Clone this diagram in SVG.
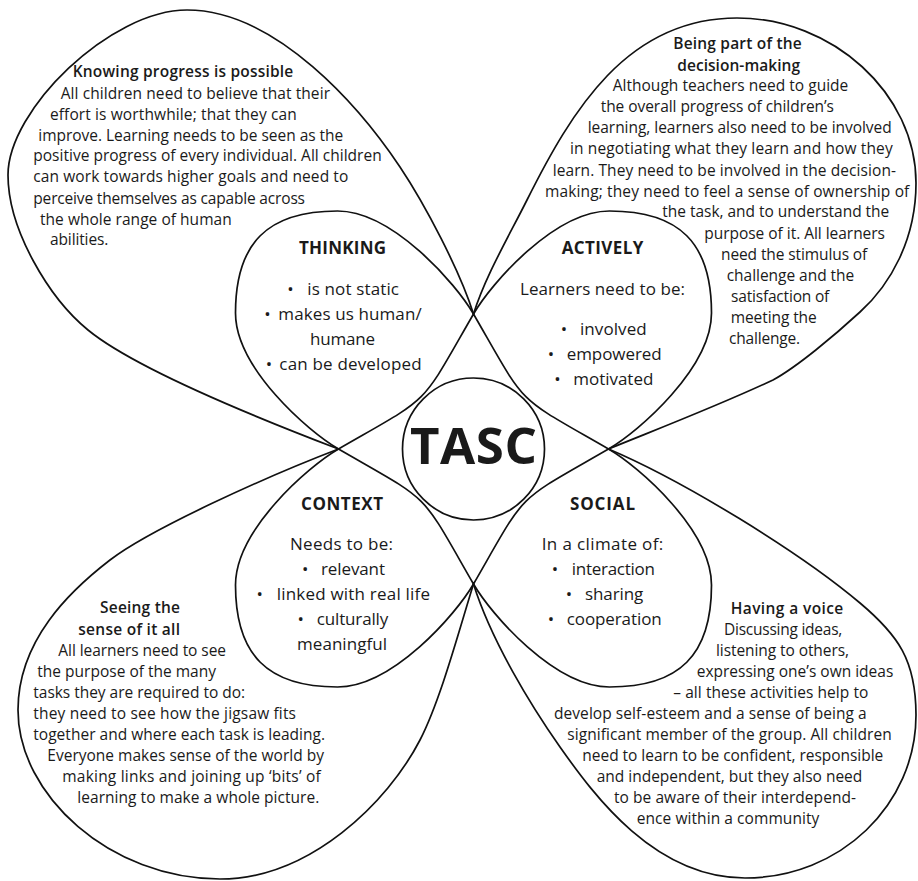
<svg xmlns="http://www.w3.org/2000/svg" width="918" height="881" viewBox="0 0 918 881">
<style>
.ln{fill:none;stroke:#111;stroke-width:1.7;stroke-linecap:round;stroke-linejoin:round}
text{font-family:"Open Sans","Noto Sans","DejaVu Sans",sans-serif;fill:#1a1a1a}
.o{font-size:15.5px}
.ob{font-size:15.5px;font-weight:600}
.i{font-size:17px}
.b{font-size:17px;text-anchor:middle}
.h{font-size:17px;font-weight:700}
.t{font-size:51px;font-weight:700}
</style>
<defs>
<path id="loop" d="M0,-135 C-17.5,-165.3 -81,-238 -136,-238 C-206,-238 -238,-206 -238,-136 C-238,-81 -165.3,-17.5 -135,0"/>
</defs>
<rect width="918" height="881" fill="#fff"/>

<g id="connectors">
<path class="ln" transform="translate(473.5,449)" d="M0,-135 C55,-39.7 39.7,-55 135,0 C39.7,55 55,39.7 0,135 C-55,39.7 -39.7,55 -135,0 C-39.7,-55 -55,-39.7 0,-135Z"/>
</g>

<g id="outer-knowing">
<path class="ln" d="M338.5,449 C254.4,416.9 134.4,368 88,330 C49.3,298.4 8,230 8,175 C8,110 110,10 187,10 C277,10 361,108.8 400,167 C425,204.4 460,271 473.5,314"/>
<text class="ob" x="72.7" y="77.3" textLength="220.6">Knowing progress is possible</text>
<text class="o" x="60.7" y="98.7" textLength="269.3">All children need to believe that their</text>
<text class="o" x="50" y="119.7" textLength="246.7">effort is worthwhile; that they can</text>
<text class="o" x="38.3" y="140.7" textLength="305">improve. Learning needs to be seen as the</text>
<text class="o" x="33.3" y="161.3" textLength="348.4">positive progress of every individual. All children</text>
<text class="o" x="33.3" y="182.3" textLength="315">can work towards higher goals and need to</text>
<text class="o" x="33.3" y="203.7" textLength="271.7">perceive themselves as capable across</text>
<text class="o" x="40" y="224.7" textLength="191.7">the whole range of human</text>
<text class="o" x="50" y="245.3" textLength="58.3">abilities.</text>
</g>

<g id="outer-decision">
<path class="ln" d="M473.5,314 C485.5,275.8 509.1,235.8 527,200 C571.7,110.6 627,18 737,18 C832,18 916,93 916,183 C916,240 890,285 860,312 C835,335 797,367 773,380 C720,405 660,428 608.5,449"/>
<text class="ob" x="673.3" y="49" textLength="128.4">Being part of the</text>
<text class="ob" x="677.3" y="70.7" textLength="122.7">decision-making</text>
<text class="o" x="612.7" y="91.3" textLength="235.6">Although teachers need to guide</text>
<text class="o" x="600.7" y="112.3" textLength="233.3">the overall progress of children’s</text>
<text class="o" x="587.7" y="133.3" textLength="304">learning, learners also need to be involved</text>
<text class="o" x="570" y="154" textLength="322.7">in negotiating what they learn and how they</text>
<text class="o" x="552.7" y="175.7" textLength="343.3">learn. They need to be involved in the decision-</text>
<text class="o" x="545" y="196.7" textLength="364.3">making; they need to feel a sense of ownership of</text>
<text class="o" x="662.3" y="217.3" textLength="227">the task, and to understand the</text>
<text class="o" x="704.3" y="239" textLength="180.7">purpose of it. All learners</text>
<text class="o" x="721" y="260" textLength="146.3">need the stimulus of</text>
<text class="o" x="726.7" y="280.7" textLength="127.6">challenge and the</text>
<text class="o" x="731" y="301.7" textLength="98.3">satisfaction of</text>
<text class="o" x="730.7" y="322.5" textLength="86">meeting the</text>
<text class="o" x="729" y="343.5" textLength="71">challenge.</text>
</g>

<g id="outer-sense">
<path class="ln" d="M338.5,449 C263.8,477.6 149.7,529.6 110,560 C70.4,590.5 18,640 18,710 C18,795 110,879 220,879 C310,879 387.9,802.2 420,740 C440.7,700 460,627 473.5,584"/>
<text class="ob" x="100" y="613.3" textLength="80">Seeing the</text>
<text class="ob" x="78.3" y="634.7" textLength="101.7">sense of it all</text>
<text class="o" x="58.3" y="655.7" textLength="167.7">All learners need to see</text>
<text class="o" x="37.3" y="677.3" textLength="178.7">the purpose of the many</text>
<text class="o" x="33.3" y="698" textLength="211.7">tasks they are required to do:</text>
<text class="o" x="33.3" y="719" textLength="262.7">they need to see how the jigsaw fits</text>
<text class="o" x="33.3" y="740" textLength="291.7">together and where each task is leading.</text>
<text class="o" x="47.3" y="761.3" textLength="276.7">Everyone makes sense of the world by</text>
<text class="o" x="62.3" y="782.3" textLength="258.4">making links and joining up ‘bits’ of</text>
<text class="o" x="77.3" y="803.3" textLength="242">learning to make a whole picture.</text>
</g>

<g id="outer-voice">
<path class="ln" d="M473.5,584 C491.4,641.2 531.25,706 560,747 C594.5,796 655,878 745,878 C840,878 916,805 916,715 C916,660 898,635 860,603 C798.9,551.4 682.1,480.2 608.5,449"/>
<text class="ob" x="730.7" y="614" textLength="112.6">Having a voice</text>
<text class="o" x="724" y="635" textLength="118.3">Discussing ideas,</text>
<text class="o" x="716" y="655.7" textLength="133">listening to others,</text>
<text class="o" x="696.7" y="677.3" textLength="196.6">expressing one’s own ideas</text>
<text class="o" x="673.3" y="698" textLength="195">– all these activities help to</text>
<text class="o" x="554" y="719" textLength="312.7">develop self-esteem and a sense of being a</text>
<text class="o" x="567.3" y="740" textLength="324.4">significant member of the group. All children</text>
<text class="o" x="582.3" y="761.3" textLength="301">need to learn to be confident, responsible</text>
<text class="o" x="596.7" y="782.3" textLength="265.6">and independent, but they also need</text>
<text class="o" x="614" y="803.3" textLength="242">to be aware of their interdepend-</text>
<text class="o" x="636.7" y="824" textLength="182.6">ence within a community</text>
</g>

<g id="thinking">
<use href="#loop" class="ln" transform="translate(473.5,449)"/>
<text class="h" x="299" y="254" textLength="87">THINKING</text>
<text class="b" x="290.5" y="295">•</text>
<text class="i" x="307.3" y="295" textLength="91.7">is not static</text>
<text class="b" x="267.5" y="319.5">•</text>
<text class="i" x="278.3" y="319.5" textLength="143.4">makes us human/</text>
<text class="i" x="310" y="344.5" textLength="65">humane</text>
<text class="b" x="269" y="369.5">•</text>
<text class="i" x="279.3" y="369.5" textLength="142.4">can be developed</text>
</g>

<g id="actively">
<use href="#loop" class="ln" transform="translate(473.5,449) scale(-1,1)"/>
<text class="h" x="561.7" y="254" textLength="81.6">ACTIVELY</text>
<text class="i" x="520" y="295" textLength="165">Learners need to be:</text>
<text class="b" x="564" y="334.5">•</text>
<text class="i" x="580" y="334.5" textLength="66.7">involved</text>
<text class="b" x="551" y="359.5">•</text>
<text class="i" x="566.7" y="359.5" textLength="95">empowered</text>
<text class="b" x="557.5" y="384.5">•</text>
<text class="i" x="573.3" y="384.5" textLength="80">motivated</text>
</g>

<g id="context">
<use href="#loop" class="ln" transform="translate(473.5,449) scale(1,-1)"/>
<text class="h" x="301" y="510" textLength="82">CONTEXT</text>
<text class="i" x="290" y="550" textLength="103">Needs to be:</text>
<text class="b" x="305.3" y="575">•</text>
<text class="i" x="321" y="575" textLength="64">relevant</text>
<text class="b" x="259.8" y="600">•</text>
<text class="i" x="276.7" y="600" textLength="153.3">linked with real life</text>
<text class="b" x="300.8" y="625">•</text>
<text class="i" x="316.7" y="625" textLength="71.6">culturally</text>
<text class="i" x="297" y="650" textLength="90">meaningful</text>
</g>

<g id="social">
<use href="#loop" class="ln" transform="translate(473.5,449) scale(-1,-1)"/>
<text class="h" x="570" y="510" textLength="65">SOCIAL</text>
<text class="i" x="541.7" y="550" textLength="121.6">In a climate of:</text>
<text class="b" x="555" y="575">•</text>
<text class="i" x="571.7" y="575" textLength="83.3">interaction</text>
<text class="b" x="569" y="600">•</text>
<text class="i" x="585" y="600" textLength="58.3">sharing</text>
<text class="b" x="551" y="625">•</text>
<text class="i" x="566.7" y="625" textLength="95">cooperation</text>
</g>

<g id="tasc">
<circle class="ln" cx="473.5" cy="449" r="71"/>
<text class="t" x="410" y="464" textLength="127">TASC</text>
</g>
</svg>
